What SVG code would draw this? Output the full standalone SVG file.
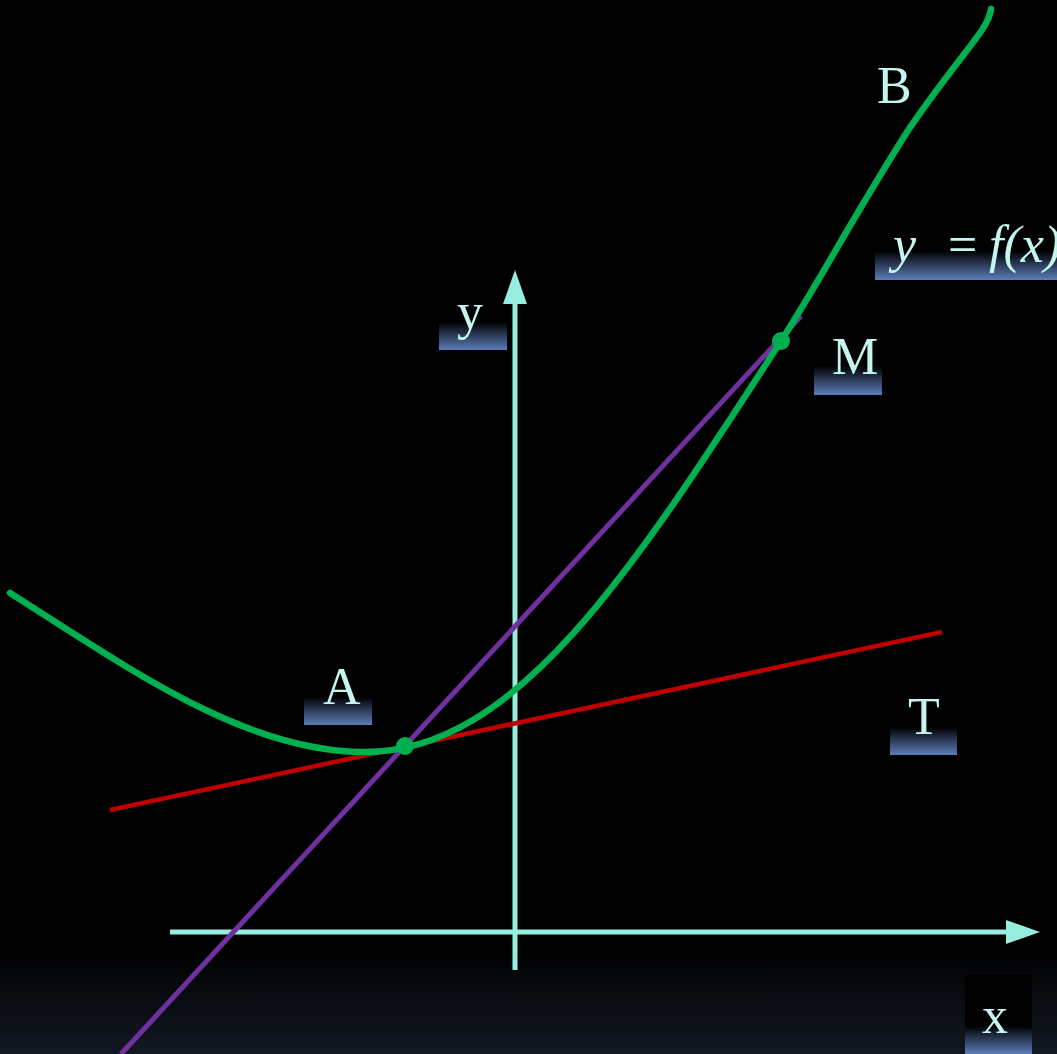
<svg xmlns="http://www.w3.org/2000/svg" width="1057" height="1054" viewBox="0 0 1057 1054">
<defs>
<linearGradient id="bg" x1="0" y1="0" x2="0" y2="1">
<stop offset="0" stop-color="#000000"/>
<stop offset="1" stop-color="#121822"/>
</linearGradient>
<linearGradient id="lab" x1="0" y1="0" x2="0" y2="1">
<stop offset="0" stop-color="#000000"/>
<stop offset="1" stop-color="#5c7db9"/>
</linearGradient>
<marker id="arr" markerUnits="userSpaceOnUse" markerWidth="36" markerHeight="26" refX="0" refY="12" orient="auto" viewBox="0 0 36 26">
<path d="M0,0 L34,12 L0,24 z" fill="#96eee0"/>
</marker>
<style>
.lbl{font-family:"Liberation Serif","Times New Roman",serif;font-size:52px;fill:#c4f5ee;}
.it{font-style:italic;}
.axis{stroke:#96eee0;stroke-width:5;fill:none;}
.box{fill:url(#lab);}
.pt{fill:#00b050;}
</style>
</defs>
<rect x="0" y="0" width="1057" height="1054" fill="#000"/>
<rect x="0" y="945" width="1057" height="109" fill="url(#bg)"/>

<g id="connectors">
<line id="x-axis" class="axis" x1="170" y1="932" x2="1006" y2="932" marker-end="url(#arr)"/>
<line id="y-axis" class="axis" x1="515" y1="970" x2="515" y2="304" marker-end="url(#arr)"/>
<line id="tangent-T" x1="110" y1="810" x2="942" y2="632" stroke="#c00000" stroke-width="4.5"/>
<line id="secant-AM" x1="121" y1="1054" x2="801" y2="316" stroke="#7030a0" stroke-width="5"/>
<path id="curve" fill="none" stroke="#00b050" stroke-width="6.5" stroke-linecap="round" stroke-linejoin="round"
d="M10,593 C130,669 245,752 365,752 C515,752 631,573.5 781,341 C821,279 847,227 907,132 C937,87 970,48 982,30 C986,24 990,16 991,9"/>
</g>

<g id="point-A"><circle class="pt" cx="405" cy="746" r="9"/></g>
<g id="point-M"><circle class="pt" cx="781" cy="341" r="9"/></g>

<g id="label-B"><text class="lbl" x="877" y="103">B</text></g>
<g id="label-fx">
<rect class="box" x="875" y="251" width="182" height="29"/>
<text class="lbl" y="262"><tspan class="it" x="893">y</tspan><tspan x="948">=</tspan><tspan class="it" x="989">f(x)</tspan></text>
</g>
<g id="label-y">
<rect class="box" x="439" y="322" width="68" height="28"/>
<text class="lbl" x="457" y="329">y</text>
</g>
<g id="label-M">
<rect class="box" x="814" y="366" width="68" height="29"/>
<text class="lbl" x="832" y="374">M</text>
</g>
<g id="label-A">
<rect class="box" x="304" y="697" width="68" height="28"/>
<text class="lbl" x="323" y="704">A</text>
</g>
<g id="label-T">
<rect class="box" x="890" y="727" width="67" height="28"/>
<text class="lbl" x="908" y="734">T</text>
</g>
<g id="label-x">
<rect x="965" y="975" width="67" height="79" fill="#000"/>
<rect class="box" x="965" y="1026" width="67" height="28"/>
<text class="lbl" x="982" y="1033">x</text>
</g>
</svg>
